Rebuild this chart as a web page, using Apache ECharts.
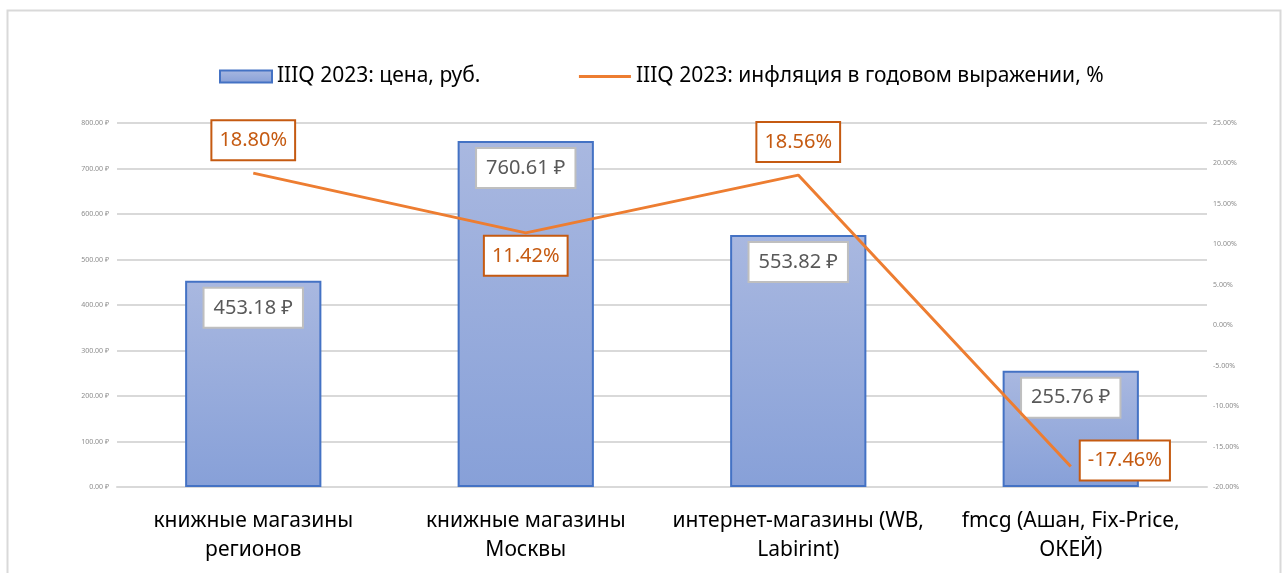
<!DOCTYPE html>
<html><head><meta charset="utf-8">
<script src="https://cdn.jsdelivr.net/npm/echarts@6/dist/echarts.min.js"></script>
<style>html,body{margin:0;padding:0;background:#fff}#c{width:1288px;height:573px}</style>
</head><body><div id="c"></div>
<script>
const categories = ['книжные магазины\nрегионов','книжные магазины\nМосквы','интернет-магазины (WB,\nLabirint)','fmcg (Ашан, Fix-Price,\nОКЕЙ)'];
const prices = [453.18, 760.61, 553.82, 255.76];
const inflation = [18.80, 11.42, 18.56, -17.46];
const priceTicks = {min:0, max:800, interval:100};
const inflTicks = {min:-20, max:25, interval:5};
const seriesNames = ['IIIQ 2023: цена, руб.', 'IIIQ 2023: инфляция в годовом выражении, %'];

const FONT = 'Noto Sans';
const lineLabelPos = [
  {position:'top', distance:14},
  {position:'bottom', distance:4},
  {position:'top', distance:14},
  {position:'right', distance:10, offset:[0,-6]}
];
const chart = echarts.init(document.getElementById('c'), null, {renderer:'canvas'});
chart.setOption({
  animation:false,
  textStyle:{fontFamily:FONT},
  graphic:[{type:'rect', shape:{x:7.5,y:10.5,width:1273,height:600}, style:{fill:'none', stroke:'#d9d9d9', lineWidth:2}, silent:true}],
  legend:{
    left:214, top:61, itemWidth:52, itemHeight:12, itemGap:97,
    textStyle:{fontSize:21, color:'#000', fontFamily:FONT},
    data:[{name:seriesNames[0], icon:'rect'},{name:seriesNames[1], itemStyle:{opacity:0}, lineStyle:{width:3, color:'#ed7d31'}}]
  },
  grid:{left:117, right:81, top:123, bottom:86, containLabel:false},
  xAxis:{
    type:'category', data:categories,
    axisLine:{show:true, lineStyle:{color:'#d9d9d9', width:2}},
    axisTick:{show:false},
    axisLabel:{fontSize:21, color:'#000', lineHeight:29, margin:20, interval:0, fontFamily:FONT}
  },
  yAxis:[{
    type:'value', min:priceTicks.min, max:priceTicks.max, interval:priceTicks.interval,
    axisLine:{show:false}, axisTick:{show:false},
    splitLine:{lineStyle:{color:'#d9d9d9', width:2}},
    axisLabel:{fontSize:7, color:'#8c8c8c', margin:8, formatter:v=>v.toFixed(2)+' ₽'}
  },{
    type:'value', min:inflTicks.min, max:inflTicks.max, interval:inflTicks.interval,
    axisLine:{show:false}, axisTick:{show:false}, splitLine:{show:false},
    axisLabel:{fontSize:7, color:'#8c8c8c', margin:6, formatter:v=>v.toFixed(2)+'%'}
  }],
  series:[{
    name:seriesNames[0], type:'bar', data:prices, barWidth:'50%', yAxisIndex:0,
    itemStyle:{
      color:new echarts.graphic.LinearGradient(0,0,0,1,[{offset:0,color:'#a9b8e0'},{offset:1,color:'#87a0d8'}]),
      borderColor:'#4472c4', borderWidth:2
    },
    label:{show:true, position:'insideTop', distance:8, fontSize:20, lineHeight:24, color:'#595959',
      backgroundColor:'#fff', borderColor:'#bfbfbf', borderWidth:2, padding:[7,9,7,9],
      formatter:p=>p.value.toFixed(2)+' ₽'}
  },{
    name:seriesNames[1], type:'line', yAxisIndex:1, symbol:'none', z:3,
    lineStyle:{color:'#ed7d31', width:3}, itemStyle:{color:'#ed7d31'},
    data:inflation
  },{
    name:'labels', type:'scatter', yAxisIndex:1, symbol:'circle', symbolSize:0, z:4,
    itemStyle:{color:'#ed7d31', opacity:1}, silent:true,
    data:inflation.map((v,i)=>({value:[i, v], label:lineLabelPos[i]})),
    label:{show:true, fontSize:20, lineHeight:24, color:'#c55a11', opacity:1,
      backgroundColor:'#fff', borderColor:'#c55a11', borderWidth:2, padding:[7,7,7,7],
      formatter:p=>p.value[1].toFixed(2)+'%'}
  }]
});
</script></body></html>
